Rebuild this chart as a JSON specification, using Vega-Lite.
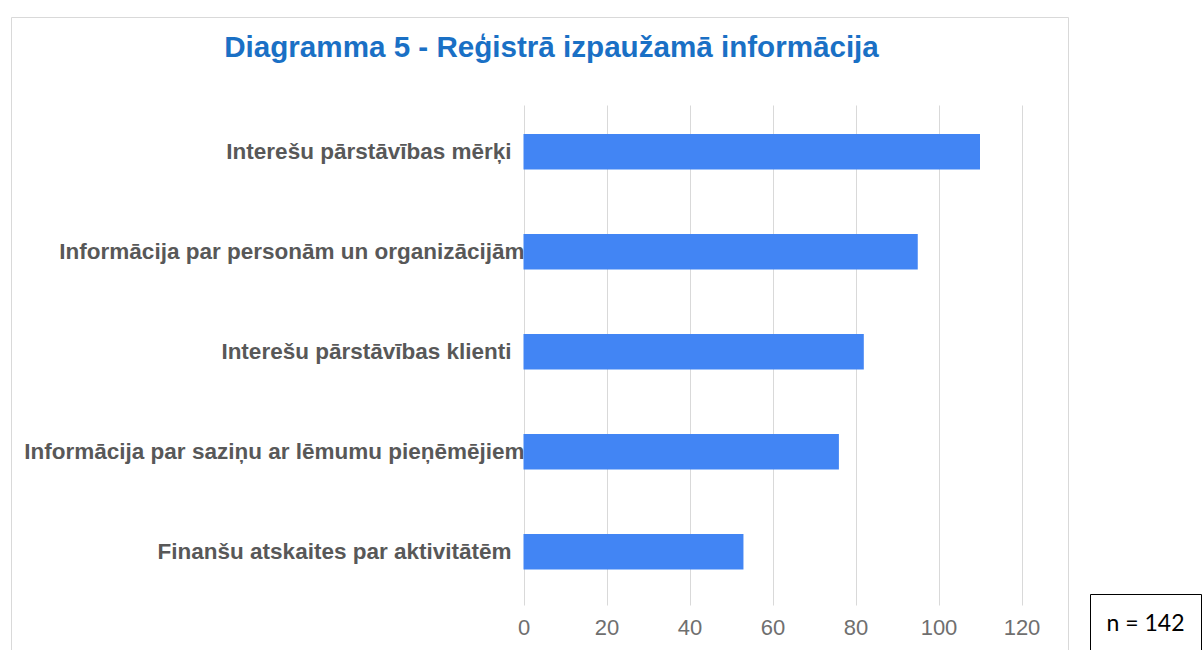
{
  "$schema": "https://vega.github.io/schema/vega-lite/v6.json",
  "padding": {"left": 10, "top": 16, "right": 0, "bottom": 0},
  "background": "white",
  "config": {"view": {"stroke": null}, "font": "Liberation Sans"},
  "bounds": "flush",
  "spacing": 22,
  "hconcat": [
    {
      "width": 1057,
      "height": 676,
      "view": {"stroke": "#d9d9d9", "strokeWidth": 1},
      "title": {
        "text": "Diagramma 5 - Reģistrā izpaužamā informācija",
        "font": "Liberation Sans",
        "fontSize": 29.6,
        "fontWeight": "bold",
        "color": "#1a70c5",
        "anchor": "middle",
        "frame": "group",
        "offset": -70,
        "baseline": "alphabetic",
        "dx": 12
      },
      "data": {
        "values": [
          {"item": "Interešu pārstāvības mērķi", "count": 110},
          {"item": "Informācija par personām un organizācijām", "count": 95},
          {"item": "Interešu pārstāvības klienti", "count": 82},
          {"item": "Informācija par saziņu ar lēmumu pieņēmējiem", "count": 76},
          {"item": "Finanšu atskaites par aktivitātēm", "count": 53}
        ]
      },
      "mark": {"type": "bar", "color": "#4285f4"},
      "encoding": {
        "y": {
          "field": "item",
          "type": "nominal",
          "sort": null,
          "scale": {"range": [88, 588], "paddingInner": 0.645, "paddingOuter": 0.3225, "align": 0.45},
          "axis": {
            "title": null,
            "orient": "left",
            "offset": -512,
            "domain": false,
            "ticks": false,
            "labelPadding": {"condition": {"test": "length(datum.label) > 35", "value": -1}, "value": 12},
            "labelFont": "Liberation Sans",
            "labelFontSize": 22.5,
            "labelFontWeight": "bold",
            "labelColor": "#585858",
            "labelLimit": 600
          }
        },
        "x": {
          "field": "count",
          "type": "quantitative",
          "scale": {"domain": [0, 120], "range": [512.5, 1010.5], "nice": false},
          "axis": {
            "title": null,
            "values": [0, 20, 40, 60, 80, 100, 120],
            "offset": -88,
            "domain": false,
            "ticks": false,
            "grid": true,
            "gridColor": "#d9d9d9",
            "gridWidth": 1,
            "labelFlush": false,
            "labelPadding": 12,
            "labelFont": "Liberation Sans",
            "labelFontSize": 22,
            "labelColor": "#6f6f6f"
          }
        }
      }
    },
    {
      "spacing": 0,
      "bounds": "flush",
      "vconcat": [
        {
          "width": 111,
          "height": 577,
          "data": {"values": [{}]},
          "mark": {"type": "text", "text": ""},
          "encoding": {}
        },
        {
          "width": 111,
          "height": 60,
          "view": {"stroke": "black", "strokeWidth": 1},
          "data": {"values": [{"label": "n = 142"}]},
          "mark": {"type": "text", "font": "Lato", "fontSize": 23, "color": "black", "baseline": "middle", "align": "center"},
          "encoding": {"text": {"field": "label", "type": "nominal"}}
        }
      ]
    }
  ]
}
